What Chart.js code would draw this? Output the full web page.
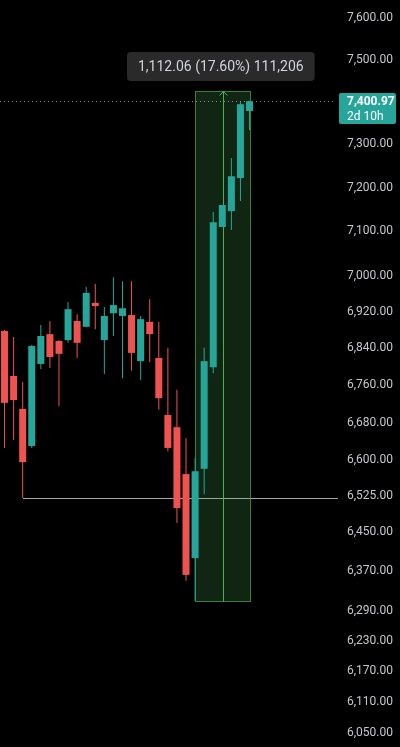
<!DOCTYPE html>
<html>
<head>
<meta charset="utf-8">
<script src="https://cdn.jsdelivr.net/npm/chart.js@4.4.1/dist/chart.umd.min.js"></script>
<style>
  html, body { margin: 0; padding: 0; background: #000; }
  #wrap { width: 400px; height: 747px; position: relative; }
</style>
</head>
<body>
<div id="wrap"><canvas id="chart"></canvas></div>
<script>
// candles, oldest first
const opens  = [6878, 6780, 6709, 6630, 6806, 6871, 6856, 6858, 6900, 6887, 6940, 6858, 6917, 6911,
                6913, 6812, 6898, 6819, 6696, 6670, 6571, 6397, 6582, 6799, 7110, 7146, 7222, 7378];
const highs  = [6880, 6865, 6767, 6847, 6891, 6900, 6858, 6942, 6915, 6975, 6982, 6931, 6997, 6988,
                6988, 6911, 6948, 6898, 6841, 6750, 6647, 6605, 6841, 7144, 7160, 7268, 7400, 7402];
const lows   = [6626, 6643, 6521, 6626, 6795, 6797, 6715, 6852, 6819, 6887, 6882, 6784, 6867, 6775,
                6791, 6771, 6810, 6707, 6619, 6469, 6351, 6310, 6529, 6786, 7110, 7103, 7169, 7333];
const closes = [6722, 6728, 6596, 6845, 6867, 6821, 6828, 6926, 6852, 6962, 6933, 6911, 6935, 6928,
                6830, 6904, 6871, 6732, 6626, 6500, 6363, 6577, 6812, 7121, 7160, 7226, 7394, 7400.97];

const yTicks = [7600, 7500, 7300, 7200, 7100, 7000, 6920, 6840, 6760, 6680, 6600, 6525,
                6450, 6370, 6290, 6230, 6170, 6110, 6050];

const lastPrice = 7400.97;
const countdown = '2d 10h';

// measure tool: from candle 21 low to the top
const measureFrom = 21;
const measureTo = 27;
const measureLow = 6310;
const measureHigh = 7425;
const measureText = '1,112.06 (17.60%) 111,206';

// horizontal ray from candle 2 low
const rayFrom = 2;
const rayPrice = 6521;

const GREEN = '#26a69a';
const RED = '#ef5350';

const fmt = v => Number(v).toLocaleString('en-US', { minimumFractionDigits: 2, maximumFractionDigits: 2 });

const idx = closes.map((_, i) => i);
const colors = idx.map(i => closes[i] >= opens[i] ? GREEN : RED);

const overlay = {
    id: 'overlay',
    beforeDatasetsDraw(chart) {
        const { ctx, chartArea: a, scales: { x, y } } = chart;
        ctx.save();

        // ray
        const ry = Math.round(y.getPixelForValue(rayPrice)) + 0.5;
        ctx.strokeStyle = '#a3a6ad';
        ctx.lineWidth = 1;
        ctx.beginPath();
        ctx.moveTo(Math.round(x.getPixelForValue(rayFrom)), ry);
        ctx.lineTo(a.right, ry);
        ctx.stroke();

        // last price dotted line
        const py = Math.round(y.getPixelForValue(lastPrice)) + 0.5;
        ctx.setLineDash([1, 3]);
        ctx.strokeStyle = '#8a8d95';
        ctx.beginPath();
        ctx.moveTo(a.left, py);
        ctx.lineTo(a.right - 2, py);
        ctx.stroke();
        ctx.setLineDash([]);

        // measure box
        const x0 = Math.round(x.getPixelForValue(measureFrom)) + 0.5;
        const x1 = Math.round(x.getPixelForValue(measureTo)) + 0.5;
        const y0 = Math.round(y.getPixelForValue(measureHigh)) + 0.5;
        const y1 = Math.round(y.getPixelForValue(measureLow)) + 0.5;
        ctx.fillStyle = 'rgba(76, 175, 80, 0.22)';
        ctx.fillRect(x0, y0, x1 - x0, y1 - y0);
        ctx.strokeStyle = 'rgba(76, 175, 80, 0.7)';
        ctx.strokeRect(x0, y0, x1 - x0, y1 - y0);

        // arrow in the middle
        const xm = Math.round((x0 + x1) / 2) + 0.5;
        ctx.strokeStyle = '#4caf50';
        ctx.beginPath();
        ctx.moveTo(xm, y1);
        ctx.lineTo(xm, y0);
        ctx.moveTo(xm - 4, y0 + 4);
        ctx.lineTo(xm, y0);
        ctx.lineTo(xm + 4, y0 + 4);
        ctx.stroke();

        ctx.restore();
    },
    afterDraw(chart) {
        const { ctx, chartArea: a, scales: { x, y } } = chart;
        ctx.save();

        // measure label
        const x0 = x.getPixelForValue(measureFrom);
        const x1 = x.getPixelForValue(measureTo);
        const y0 = y.getPixelForValue(measureHigh);
        ctx.font = '14px Roboto';
        const tw = ctx.measureText(measureText).width;
        const bw = tw + 22, bh = 29;
        const bx = Math.round((x0 + x1) / 2 - bw / 2) - 1;
        const by = Math.round(y0 - 10 - bh);
        ctx.fillStyle = '#2a2a2b';
        ctx.beginPath();
        ctx.roundRect(bx, by, bw, bh, 4);
        ctx.fill();
        ctx.fillStyle = '#d1d4dc';
        ctx.textAlign = 'center';
        ctx.textBaseline = 'middle';
        ctx.fillText(measureText, bx + bw / 2, by + bh / 2 + 1);

        // last price tag
        const py = Math.round(y.getPixelForValue(lastPrice));
        ctx.fillStyle = GREEN;
        ctx.beginPath();
        ctx.roundRect(a.right + 1, py - 8, 57, 31, 2);
        ctx.fill();
        ctx.fillStyle = '#ffffff';
        ctx.textAlign = 'left';
        ctx.font = 'bold 12px Roboto';
        ctx.fillText(fmt(lastPrice), a.right + 9, py + 1);
        ctx.font = '12px Roboto';
        ctx.fillText(countdown, a.right + 9, py + 16);

        ctx.restore();
    }
};

new Chart(document.getElementById('chart'), {
    type: 'bar',
    data: {
        datasets: [
            {
                label: 'wick',
                data: idx.map(i => ({ x: i, y: [lows[i], highs[i]] })),
                backgroundColor: colors,
                barThickness: 1,
                grouped: false,
                borderWidth: 0,
                inflateAmount: 0
            },
            {
                label: 'body',
                data: idx.map(i => ({ x: i, y: [opens[i], closes[i]] })),
                backgroundColor: colors,
                barThickness: 7,
                grouped: false,
                borderWidth: 0,
                inflateAmount: 0,
                minBarLength: 1
            }
        ]
    },
    options: {
        responsive: true,
        maintainAspectRatio: false,
        animation: false,
        events: [],
        layout: { padding: 0 },
        plugins: { legend: { display: false }, tooltip: { enabled: false } },
        scales: {
            x: {
                type: 'linear',
                display: false,
                offset: false,
                min: -0.5,
                max: 36.75
            },
            y: {
                type: 'logarithmic',
                position: 'right',
                min: 6023,
                max: 7644,
                grid: { display: false, drawTicks: false },
                border: { display: false },
                afterBuildTicks: s => { s.ticks = yTicks.map(v => ({ value: v })); },
                afterFit: s => { s.width = 62; s.paddingTop = 0; s.paddingBottom = 0; },
                ticks: {
                    autoSkip: false,
                    padding: 9,
                    color: '#c5c7cd',
                    font: { family: 'Roboto', size: 12 },
                    callback: v => fmt(v)
                }
            }
        }
    },
    plugins: [overlay]
});
</script>
</body>
</html>
